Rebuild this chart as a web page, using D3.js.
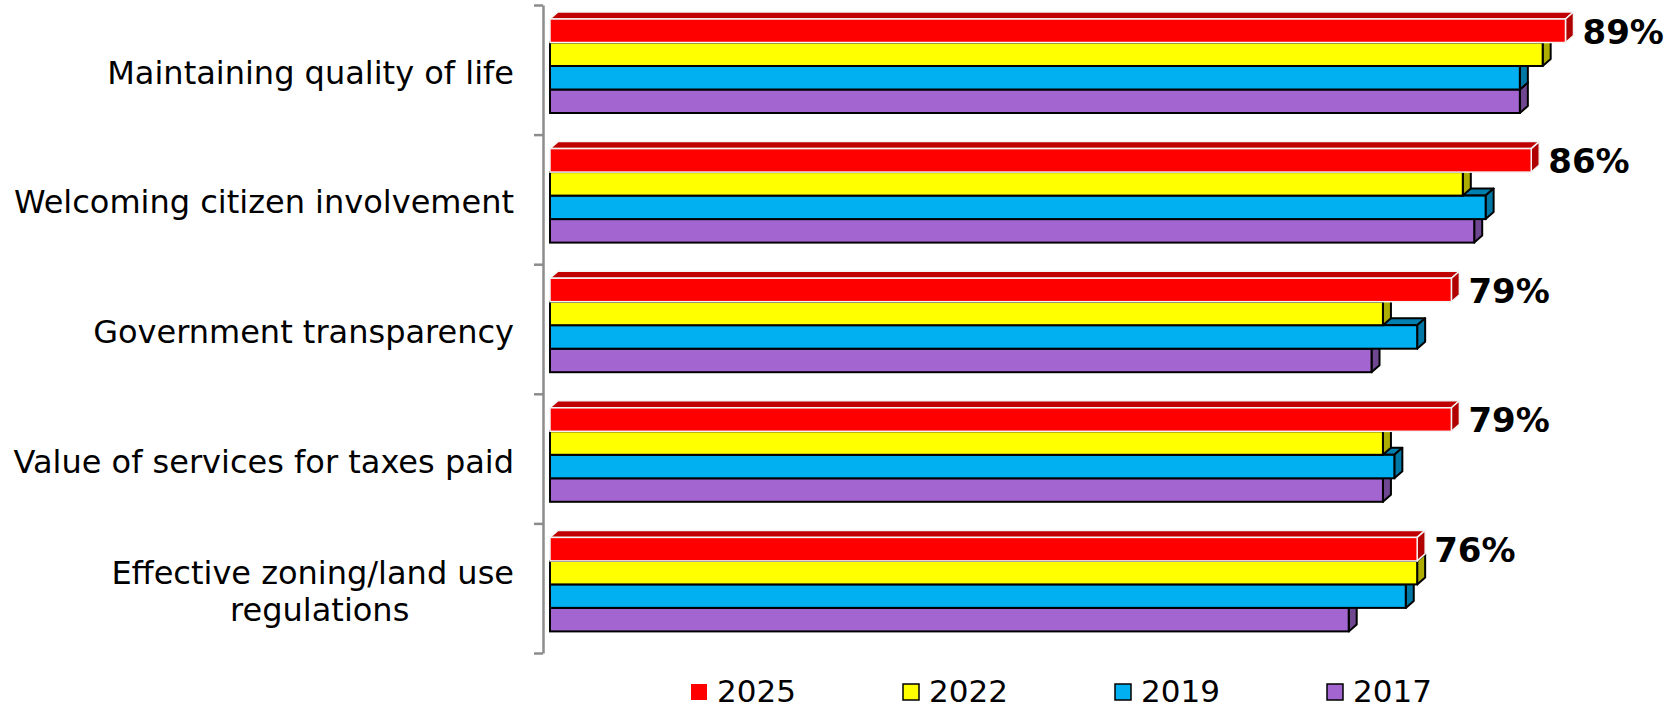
<!DOCTYPE html>
<html>
<head>
<meta charset="utf-8">
<script src="https://cdn.jsdelivr.net/npm/d3@7/dist/d3.min.js"></script>
<style>
  body { margin: 0; background: #fff; }
  text { font-family: Verdana, "DejaVu Sans", sans-serif; }
</style>
</head>
<body>
<div id="chart"></div>
<script>
// data
var categories = ["Maintaining quality of life", "Welcoming citizen involvement",
  "Government transparency", "Value of services for taxes paid",
  "Effective zoning/land use regulations"];
var years = ["2025", "2022", "2019", "2017"];
var v2025 = [89, 86, 79, 79, 76];
var v2022 = [87, 80, 73, 73, 76];
var v2019 = [85, 82, 76, 74, 75];
var v2017 = [85, 81, 72, 73, 70];
var series = { "2025": v2025, "2022": v2022, "2019": v2019, "2017": v2017 };

var front = { "2025": "#ff0000", "2022": "#ffff00", "2019": "#00b0f0", "2017": "#a366d0" };
var side  = { "2025": "#b00000", "2022": "#adad00", "2019": "#0078a6", "2017": "#6f4690" };
var top3d = { "2025": "#c00000", "2022": "#c4c400", "2019": "#0080b0", "2017": "#7a4c9c" };
var edge  = { "2025": "#f4f4f4", "2022": "#000", "2019": "#000", "2017": "#000" };

var W = 1680, H = 709;
var dx = 8, dy = 7;

var svg = d3.select("#chart").append("svg")
	.attr("width", W)
	.attr("height", H);

svg.append("rect").attr("width", W).attr("height", H).attr("fill", "#fff");

var x = d3.scaleLinear().domain([0, 100]).range([550, 550 + 1141]);
var y0 = d3.scaleBand().domain(categories).range([5, 653]);
var y1 = d3.scaleBand().domain(years).range([14, 14 + 94]);

// axis with ticks between categories
var yTicks = d3.scaleLinear().domain([0, categories.length]).range([5, 653]);
var axis = svg.append("g")
	.attr("transform", "translate(543,0)")
	.call(d3.axisLeft(yTicks).ticks(categories.length).tickFormat("").tickSize(9).tickSizeOuter(0));
axis.select(".domain").attr("stroke", "#8c8c8c").attr("stroke-width", 2.5);
axis.selectAll(".tick line").attr("stroke", "#8c8c8c").attr("stroke-width", 2.5);

// bars, lowest series first so upper bars cover top faces
var drawOrder = years.slice().reverse();
categories.forEach(function (cat, ci) {
	var g = svg.append("g").attr("transform", "translate(0," + y0(cat) + ")");
	drawOrder.forEach(function (yr) {
		var v = series[yr][ci];
		var x0 = x(0), x1 = x(v);
		var t = y1(yr), h = y1.bandwidth();
		var sw = yr == "2025" ? 1.5 : 2;
		g.append("polygon")
			.attr("points", [[x0, t], [x0 + dx, t - dy], [x1 + dx, t - dy], [x1, t]].join(" "))
			.attr("fill", top3d[yr]).attr("stroke", edge[yr]).attr("stroke-width", sw)
			.attr("stroke-linejoin", "round");
		g.append("polygon")
			.attr("points", [[x1, t], [x1 + dx, t - dy], [x1 + dx, t + h - dy], [x1, t + h]].join(" "))
			.attr("fill", side[yr]).attr("stroke", edge[yr]).attr("stroke-width", sw)
			.attr("stroke-linejoin", "round");
		g.append("rect")
			.attr("x", x0).attr("y", t)
			.attr("width", x1 - x0).attr("height", h)
			.attr("fill", front[yr]).attr("stroke", edge[yr]).attr("stroke-width", sw);
		if (yr == "2025") {
			g.append("text")
				.attr("x", x1 + dx + 9)
				.attr("y", t + h + 1)
				.attr("font-size", 34)
				.attr("font-weight", "bold")
				.attr("fill", "#000")
				.text(v + "%");
		}
	});
});

// category labels, wrapped like the original
var labelRight = 514, wrapWidth = 540, fs = 32;
categories.forEach(function (cat) {
	var cy = y0(cat) + y0.bandwidth() / 2;
	var t = svg.append("text").attr("font-size", fs).attr("fill", "#000");
	var words = cat.split(" "), lines = [], line = [];
	words.forEach(function (w) {
		line.push(w);
		t.text(line.join(" "));
		if (t.node().getComputedTextLength() > wrapWidth && line.length > 1) {
			line.pop();
			lines.push(line.join(" "));
			line = [w];
		}
	});
	lines.push(line.join(" "));
	t.text(lines[0]);
	var w0 = t.node().getComputedTextLength();
	t.remove();
	var lh = 37;
	lines.forEach(function (ln, i) {
		svg.append("text")
			.attr("font-size", fs)
			.attr("fill", "#000")
			.attr("text-anchor", i == 0 ? "end" : "middle")
			.attr("x", i == 0 ? labelRight : labelRight - w0 / 2 + 7)
			.attr("y", cy + 14 + (i - (lines.length - 1) / 2) * lh)
			.text(ln);
	});
});

// legend
var lx = d3.scaleLinear().domain([0, years.length - 1]).range([691, 1327]);
var legend = svg.selectAll(".leg")
	.data(years)
	.enter()
	.append("g")
	.attr("transform", function (d, i) { return "translate(" + lx(i) + ",684)"; });
legend.append("rect")
	.attr("width", 16).attr("height", 16)
	.attr("fill", function (d) { return front[d]; })
	.attr("stroke", function (d) { return d == "2025" ? "none" : "#000"; })
	.attr("stroke-width", 1.5);
legend.append("text")
	.attr("x", 26).attr("y", 18)
	.attr("font-size", 31)
	.attr("fill", "#000")
	.text(function (d) { return d; });
</script>
</body>
</html>
